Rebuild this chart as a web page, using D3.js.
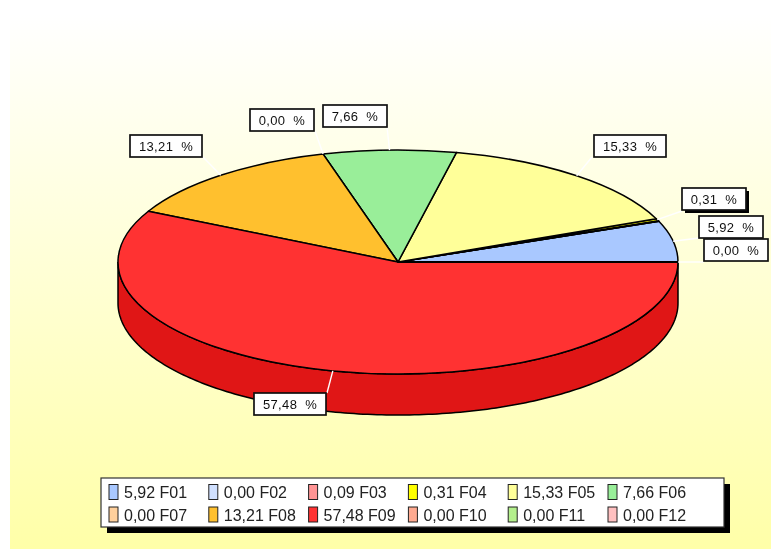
<!DOCTYPE html>
<html><head><meta charset="utf-8">
<script src="https://cdn.jsdelivr.net/npm/d3@7"></script>
<style>html,body{margin:0;padding:0;background:#fff}svg{display:block;font-family:"Liberation Sans",Arial,sans-serif}</style>
</head><body>
<svg id="c" width="771" height="549"></svg>
<script>
const categories = ["F01","F02","F03","F04","F05","F06","F07","F08","F09","F10","F11","F12"];
const values = [5.92,0.00,0.09,0.31,15.33,7.66,0.00,13.21,57.48,0.00,0.00,0.00];
const colors = ["#A9C8FF","#D0E0FF","#FF9494","#FFFF00","#FFFF99","#99EE99","#FFD09C","#FFC02E","#FF3333","#FFAA90","#B4F08C","#FFC0C0"];
const sideColors = ["#8FAAD9","#B0BED9","#D97E7E","#D9D900","#D9D982","#82CA82","#D9B185","#D9A327","#E01414","#D9917A","#99CC77","#D9A3A3"];
const labelled = ["F01","F04","F05","F06","F07","F08","F09","F12"];
// label box layout: left, top, leader end
const labelLayout = {
  F01:{x:699,y:216,ex:699,ey:238},
  F04:{x:682,y:188,ex:682,ey:211,shadow:true},
  F05:{x:594,y:135,ex:592,ey:157},
  F06:{x:323,y:105,ex:387,ey:127},
  F07:{x:250,y:109,ex:315,ey:131},
  F08:{x:130,y:135,ex:203,ey:157},
  F09:{x:254,y:393,ex:327,ey:393},
  F12:{x:704,y:239,ex:704,ey:262}
};
const fmt = v => v.toFixed(2).replace(".", ",");
const W=771,H=549,cx=398,cy=262,rx=280,ry=112,depth=41;
const svg = d3.select("#c");
const defs = svg.append("defs");
const g = defs.append("linearGradient").attr("id","bg").attr("x1",0).attr("x2",0).attr("y1",0).attr("y2",1);
g.append("stop").attr("offset",0).attr("stop-color","#FFFFFF");
g.append("stop").attr("offset",1).attr("stop-color","#FFFFA8");
defs.append("filter").attr("id","soft").attr("x",0).attr("y",0).attr("width",1).attr("height",1)
  .append("feGaussianBlur").attr("stdDeviation",0.45);
const root = svg.append("g").attr("filter","url(#soft)");
root.append("rect").attr("x",0).attr("y",0).attr("width",W).attr("height",H).attr("fill","#fff");
root.append("rect").attr("x",10).attr("y",14).attr("width",W-10).attr("height",H-14).attr("fill","url(#bg)");

const arcs = d3.pie().sort(null).value(d=>d.v).startAngle(Math.PI/2).endAngle(Math.PI/2-2*Math.PI)
  (categories.map((c,i)=>({c,v:values[i],col:colors[i],side:sideColors[i]})));
const ptX = a => cx+rx*Math.sin(a), ptY = a => cy-ry*Math.cos(a);

// extruded side
const frontHi=-Math.PI/2, frontLo=-3*Math.PI/2;
arcs.forEach(d=>{
  const hi=Math.min(d.startAngle,frontHi), lo=Math.max(d.endAngle,frontLo);
  if(hi-lo<=0) return;
  const n=Math.max(2,Math.ceil((hi-lo)*60));
  const as=d3.range(n+1).map(i=>hi-(hi-lo)*i/n);
  const upper=as.map(a=>[ptX(a),ptY(a)]);
  const lower=as.slice().reverse().map(a=>[ptX(a),ptY(a)+depth]);
  root.append("path").attr("d",d3.line()(upper.concat(lower))+"Z")
    .attr("fill",d.data.side).attr("stroke","#000").attr("stroke-width",1.5);
});
// top face
const arc=d3.arc().innerRadius(0).outerRadius(rx);
const face=root.append("g").attr("transform",`translate(${cx},${cy}) scale(1,${ry/rx})`);
face.selectAll("path").data(arcs).join("path").attr("d",arc)
  .attr("fill",d=>d.data.col).attr("stroke","#000").attr("stroke-width",1.5)
  .attr("vector-effect","non-scaling-stroke").attr("stroke-linejoin","round");

// labels
const bw=64,bh=22;
arcs.filter(d=>labelled.includes(d.data.c)).forEach(d=>{
  const l=labelLayout[d.data.c], mid=(d.startAngle+d.endAngle)/2;
  root.append("line").attr("x1",ptX(mid)).attr("y1",ptY(mid)).attr("x2",l.ex).attr("y2",l.ey)
    .attr("stroke","#fff").attr("stroke-width",1.4);
  const txt=fmt(d.data.v)+"  %";
  const w=d.data.v>=10?72:bw;
  if(l.shadow) root.append("rect").attr("x",l.x+3).attr("y",l.y+3).attr("width",w).attr("height",bh).attr("fill","#000");
  root.append("rect").attr("x",l.x).attr("y",l.y).attr("width",w).attr("height",bh)
    .attr("fill","#fff").attr("stroke","#111").attr("stroke-width",1.7);
  root.append("text").attr("x",l.x+w/2).attr("y",l.y+15.5).attr("text-anchor","middle")
    .style("white-space","pre")
    .attr("font-size",13).attr("letter-spacing",0.35).attr("fill","#111").text(txt);
});

// legend
const lx=101,ly=478,lw=623,lh=49;
root.append("rect").attr("x",lx+6).attr("y",ly+6).attr("width",lw).attr("height",lh).attr("fill","#000");
root.append("rect").attr("x",lx).attr("y",ly).attr("width",lw).attr("height",lh)
  .attr("fill","#fff").attr("stroke","#333").attr("stroke-width",1.2);
const colX=d3.scalePoint().domain(d3.range(6)).range([109,608]);
categories.forEach((c,i)=>{
  const x=colX(i%6), y=i<6?484.5:507;
  root.append("rect").attr("x",x).attr("y",y).attr("width",9).attr("height",15)
    .attr("fill",colors[i]).attr("stroke","#222").attr("stroke-width",1);
  root.append("text").attr("x",x+15).attr("y",y+13.5).attr("font-size",16).attr("fill","#222")
    .text(fmt(values[i])+" "+c);
});
</script>
</body></html>
